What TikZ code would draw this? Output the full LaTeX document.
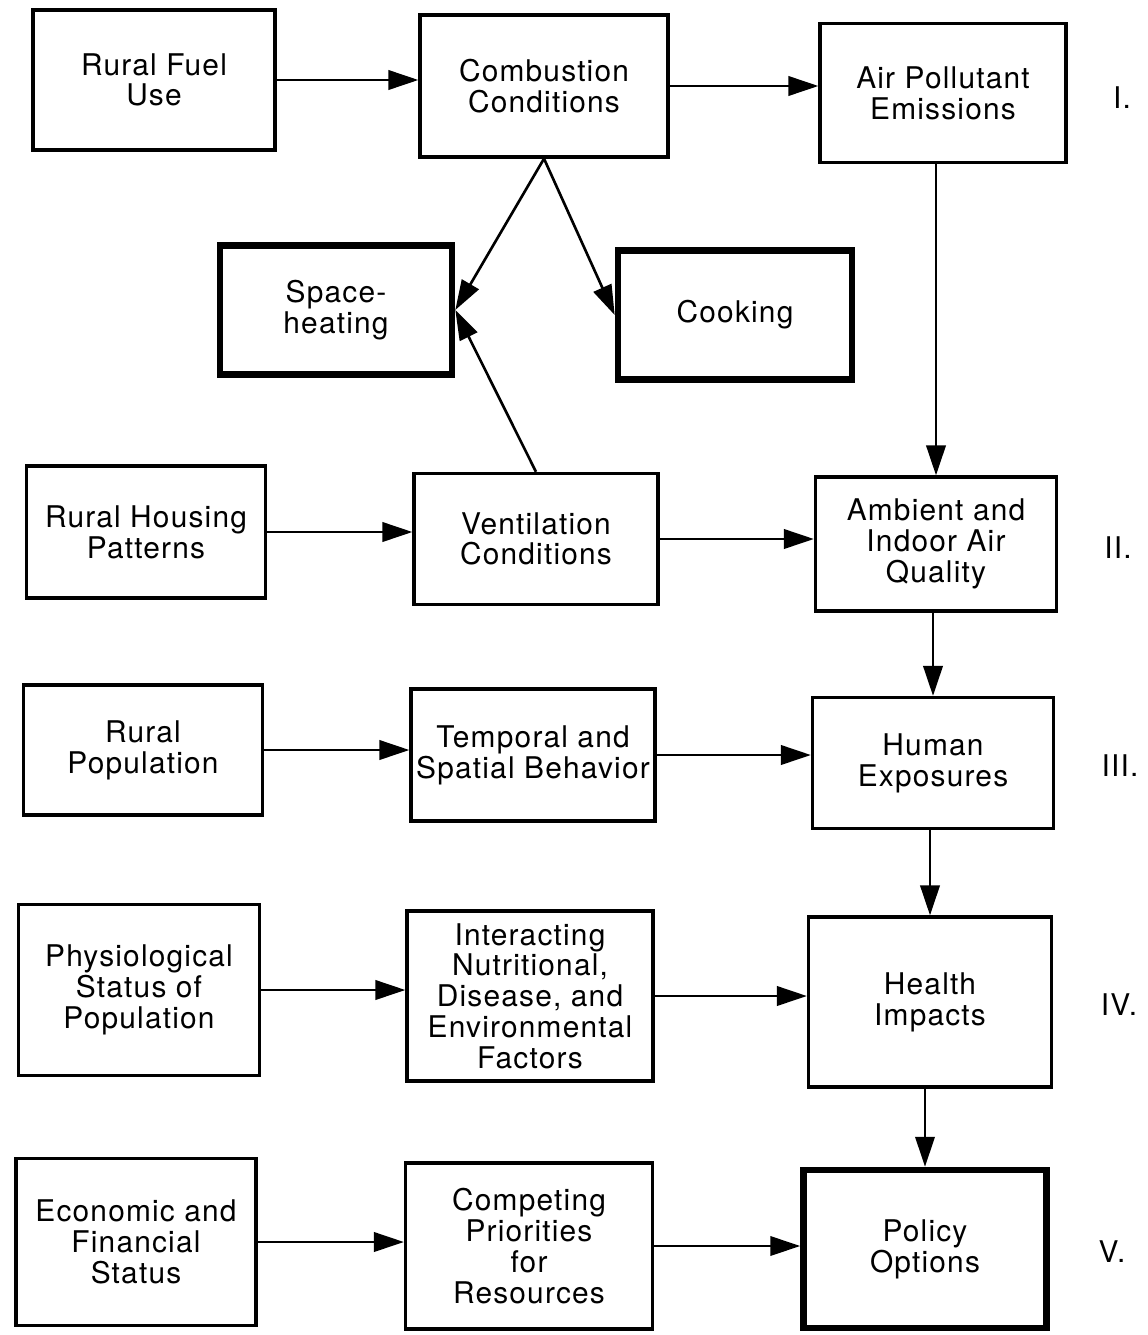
\documentclass[tikz,border=0pt]{standalone}
\usepackage{fontspec}
\setmainfont[LetterSpace=4]{TeX Gyre Heros}
\usetikzlibrary{arrows.meta}

\tikzset{
	box/.style={draw, line width=1.9pt, align=center, inner sep=0pt, font=\fontsize{17}{17.5}\selectfont},
	heavybox/.style={box, line width=3.8pt},
	flow/.style={-{Triangle[length=17pt, width=11pt]}, line width=1.5pt},
	level/.style={font=\fontsize{17}{17.5}\selectfont}
}

\begin{document}
\begin{tikzpicture}[x=0.02cm, y=-0.02cm]
		\useasboundingbox (0,0) rectangle (1148,1335);
		\node[box, minimum width=4.84cm, minimum height=2.80cm] (fuel)    at (154, 80)   {Rural Fuel\\Use};
		\node[box, minimum width=4.96cm, minimum height=2.84cm] (comb)    at (544, 86)   {Combustion\\Conditions};
		\node[box, minimum width=4.92cm, minimum height=2.78cm] (emis)    at (943, 93)   {Air Pollutant\\Emissions};
		\node[heavybox, minimum width=4.64cm, minimum height=2.58cm] (heat) at (336, 310) {Space-\\heating};
		\node[heavybox, minimum width=4.68cm, minimum height=2.58cm] (cook) at (735, 315) {Cooking};
		\node[box, minimum width=4.78cm, minimum height=2.64cm] (housing) at (146, 532)  {Rural Housing\\Patterns};
		\node[box, minimum width=4.88cm, minimum height=2.62cm] (vent)    at (536, 539)  {Ventilation\\Conditions};
		\node[box, minimum width=4.82cm, minimum height=2.68cm] (air)     at (936, 544)  {Ambient and\\Indoor Air\\Quality};
		\node[box, minimum width=4.78cm, minimum height=2.60cm] (pop)     at (143, 750)  {Rural\\Population};
		\node[box, minimum width=4.88cm, minimum height=2.64cm] (behav)   at (533, 755)  {Temporal and\\Spatial Behavior};
		\node[box, minimum width=4.82cm, minimum height=2.62cm] (expo)    at (933, 763)  {Human\\Exposures};
		\node[box, minimum width=4.82cm, minimum height=3.42cm] (phys)    at (139, 990)  {Physiological\\Status of\\Population};
		\node[box, minimum width=4.92cm, minimum height=3.40cm] (factors) at (530, 996)  {Interacting\\Nutritional,\\Disease, and\\Environmental\\Factors};
		\node[box, minimum width=4.86cm, minimum height=3.40cm] (health)  at (930, 1002) {Health\\Impacts};
		\node[box, minimum width=4.80cm, minimum height=3.34cm] (econ)    at (136, 1242) {Economic and\\Financial\\Status};
		\node[box, minimum width=4.94cm, minimum height=3.32cm] (prior)   at (529, 1246) {Competing\\Priorities\\for\\Resources};
		\node[heavybox, minimum width=4.86cm, minimum height=3.16cm] (policy) at (925, 1249) {Policy\\Options};
		\node[level] (lvI)   at (1122, 98)   {I.};
		\node[level] (lvII)  at (1118, 548)  {II.};
		\node[level] (lvIII) at (1120, 766)  {III.};
		\node[level] (lvIV)  at (1119, 1005) {IV.};
		\node[level] (lvV)   at (1112, 1252) {V.};
		\draw[flow] (fuel.east) -- (fuel.east -| comb.west);
		\draw[flow] (comb.east) -- (comb.east -| emis.west);
		\draw[flow] (comb.south) -- (heat.east);
		\draw[flow] (comb.south) -- (cook.west);
		\draw[flow] (vent.north) -- (heat.east);
		\draw[flow] (air.north |- emis.south) -- (air.north);
		\draw[flow] (housing.east) -- (housing.east -| vent.west);
		\draw[flow] (vent.east) -- (vent.east -| air.west);
		\draw[flow] (expo.north |- air.south) -- (expo.north);
		\draw[flow] (pop.east) -- (pop.east -| behav.west);
		\draw[flow] (behav.east) -- (behav.east -| expo.west);
		\draw[flow] (health.north |- expo.south) -- (health.north);
		\draw[flow] (phys.east) -- (phys.east -| factors.west);
		\draw[flow] (factors.east) -- (factors.east -| health.west);
		\draw[flow] (policy.north |- health.south) -- (policy.north);
		\draw[flow] (econ.east) -- (econ.east -| prior.west);
		\draw[flow] (prior.east) -- (prior.east -| policy.west);
	\end{tikzpicture}
\end{document}
